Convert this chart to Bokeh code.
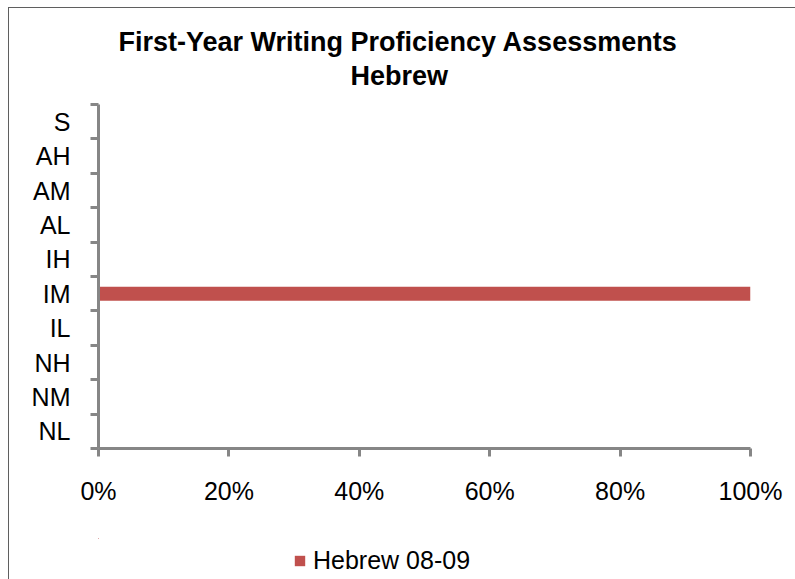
from bokeh.plotting import figure
from bokeh.layouts import column
from bokeh.models import (Range1d, FixedTicker, NumeralTickFormatter, Title,
                          Legend, LegendItem, ColumnDataSource)
from bokeh.embed import file_html
from bokeh.resources import INLINE

# ---- data ----
categories = ["NL", "NM", "NH", "IL", "IM", "IH", "AL", "AM", "AH", "S"]
series_name = "Hebrew 08-09"
values = [0, 0, 0, 0, 1.0, 0, 0, 0, 0, 0]
x_ticks = [0, 0.2, 0.4, 0.6, 0.8, 1.0]
title_line1 = "First-Year Writing Proficiency Assessments"
title_line2 = "Hebrew"

FONT = "Liberation Sans"
AXIS_COLOR = "#868686"
BAR_COLOR = "#C0504D"

y_centers = [i + 0.5 for i in range(len(categories))]
src = ColumnDataSource(dict(y=y_centers, right=values, cat=categories))

p = figure(width=786, height=530, output_backend="svg", toolbar_location=None,
           x_range=Range1d(0, 1), y_range=Range1d(0, len(categories)),
           min_border_left=89, min_border_right=45,
           min_border_top=96, min_border_bottom=90)
p.outline_line_color = None
p.xgrid.visible = False
p.ygrid.visible = False
p.background_fill_color = "white"
p.border_fill_color = "white"

r = p.hbar(y="y", left=0, right="right", height=0.41, source=src,
           fill_color=BAR_COLOR, line_color=None)

# y axis: labels at band centers, ticks at band boundaries
ya = p.yaxis[0]
ya.ticker = FixedTicker(ticks=y_centers, minor_ticks=list(range(len(categories) + 1)))
ya.major_label_overrides = {c: lab for c, lab in zip(y_centers, categories)}
ya.major_tick_out = 0
ya.major_tick_in = 0
ya.major_tick_line_color = None
ya.minor_tick_out = 8
ya.minor_tick_in = 0
ya.minor_tick_line_color = AXIS_COLOR
ya.minor_tick_line_width = 3
ya.axis_line_color = AXIS_COLOR
ya.axis_line_width = 3
ya.major_label_text_font = FONT
ya.major_label_text_font_size = "25px"
ya.major_label_text_color = "black"
ya.major_label_standoff = 20

xa = p.xaxis[0]
xa.ticker = FixedTicker(ticks=x_ticks)
xa.formatter = NumeralTickFormatter(format="0%")
xa.major_tick_out = 8
xa.major_tick_in = 0
xa.major_tick_line_color = AXIS_COLOR
xa.major_tick_line_width = 3
xa.minor_tick_line_color = None
xa.axis_line_color = AXIS_COLOR
xa.axis_line_width = 3
xa.major_label_text_font = FONT
xa.major_label_text_font_size = "25px"
xa.major_label_text_color = "black"
xa.major_label_standoff = 20

t2 = Title(text=title_line2, align="left", offset=252, standoff=28,
           text_font=FONT, text_font_size="27px", text_font_style="bold",
           text_color="black")
t1 = Title(text=title_line1, align="left", offset=20, standoff=-24,
           text_font=FONT, text_font_size="27px", text_font_style="bold",
           text_color="black")
p.add_layout(t2, "above")
p.add_layout(t1, "above")

# ---- legend strip below the chart (its own bars lie outside its view) ----
pl = figure(width=786, height=41, output_backend="svg", toolbar_location=None,
            x_range=Range1d(10, 11), y_range=Range1d(-20, -19),
            x_axis_type=None, y_axis_type=None, min_border=0)
pl.outline_line_color = None
pl.xgrid.visible = False
pl.ygrid.visible = False
pl.background_fill_color = "white"
pl.border_fill_color = "white"
rl = pl.hbar(y="y", left=0, right="right", height=0.41, source=src,
             fill_color=BAR_COLOR, line_color=None)

legend = Legend(items=[LegendItem(label=series_name, renderers=[rl])],
                location=(195, 4), border_line_color=None,
                background_fill_alpha=0, padding=0, margin=0,
                glyph_width=13, glyph_height=13, label_standoff=7,
                label_text_font=FONT, label_text_font_size="25px",
                label_text_color="black")
pl.add_layout(legend)

layout = column(p, pl, spacing=0)
layout.styles = {"margin-left": "8px", "margin-top": "7px",
                 "border-left": "1px solid #5f5f5f", "border-top": "1px solid #5f5f5f"}

open("out.html", "w").write(file_html(layout, INLINE))
